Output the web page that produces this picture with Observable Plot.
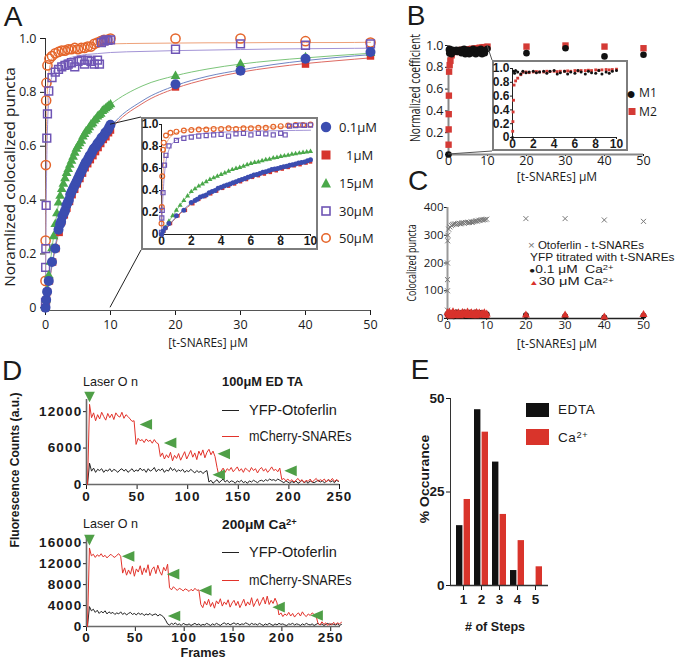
<!DOCTYPE html>
<html><head><meta charset="utf-8">
<script src="https://cdn.jsdelivr.net/npm/d3@7"></script>
<script src="https://cdn.jsdelivr.net/npm/@observablehq/plot@0.6"></script>
<style>
html,body{margin:0;padding:0;background:#fff;}
#root{position:relative;width:677px;height:659px;overflow:hidden;background:#fff;}
#root svg{overflow:visible;}
sup{font-size:0.68em;vertical-align:0.45em;line-height:0;}
.tight sup{vertical-align:0.3em;}
</style></head><body><div id="root"></div>
<script>
// ---------------- DATA ----------------
// Panel A: [t-SNAREs] (µM) vs normalized colocalized puncta, per Ca2+ concentration
const a01 = [[0,0],[0.1,0.03],[0.25,0.06],[0.5,0.10],[1,0.17],[1.5,0.22],[2,0.29],[2.25,0.31],[2.4,0.32],[2.6,0.34],[2.8,0.35],[3,0.36],[3.2,0.38],[3.4,0.39],[3.6,0.40],[3.8,0.42],[4,0.43],[4.2,0.44],[4.4,0.45],[4.6,0.46],[4.8,0.47],[5,0.48],[5.2,0.49],[5.4,0.50],[5.6,0.51],[5.8,0.52],[6,0.53],[6.2,0.54],[6.4,0.545],[6.6,0.555],[6.8,0.565],[7,0.57],[7.2,0.58],[7.4,0.59],[7.6,0.595],[7.8,0.60],[8,0.61],[8.2,0.615],[8.4,0.62],[8.6,0.63],[8.8,0.635],[9,0.64],[9.2,0.65],[9.4,0.655],[9.6,0.66],[9.8,0.67],[10,0.68],[20,0.83],[30,0.88],[40,0.925],[50,0.95]];
const a1 = [[0,0],[0.15,0.03],[0.3,0.06],[0.6,0.10],[1.1,0.17],[1.6,0.22],[2.1,0.28],[2.5,0.32],[2.9,0.345],[3.3,0.37],[3.7,0.395],[4.1,0.42],[4.5,0.44],[4.9,0.46],[5.3,0.48],[5.7,0.50],[6.1,0.52],[6.5,0.535],[6.9,0.55],[7.3,0.565],[7.7,0.58],[8.1,0.595],[8.5,0.61],[8.9,0.625],[9.3,0.635],[9.7,0.65],[10,0.66],[20,0.82],[30,0.88],[40,0.905],[50,0.935]];
const a15 = [[0,0],[0.1,0.03],[0.25,0.065],[0.5,0.12],[0.75,0.17],[1,0.22],[1.25,0.265],[1.5,0.31],[1.75,0.35],[2,0.39],[2.25,0.415],[2.5,0.44],[2.75,0.46],[3,0.48],[3.25,0.50],[3.5,0.515],[3.75,0.53],[4,0.545],[4.25,0.56],[4.5,0.575],[4.75,0.59],[5,0.60],[5.25,0.61],[5.5,0.62],[5.75,0.635],[6,0.645],[6.25,0.655],[6.5,0.66],[6.75,0.67],[7,0.68],[7.25,0.685],[7.5,0.695],[7.75,0.70],[8,0.71],[8.25,0.715],[8.5,0.72],[8.75,0.73],[9,0.735],[9.25,0.74],[9.5,0.745],[9.75,0.75],[10,0.755],[20,0.86],[30,0.905],[40,0.93],[50,0.945]];
const a30 = [[0,0.02],[0.02,0.15],[0.05,0.22],[0.1,0.38],[0.2,0.63],[0.3,0.72],[0.5,0.805],[1,0.855],[1.5,0.875],[2,0.885],[2.5,0.895],[3,0.90],[3.5,0.905],[4,0.91],[4.5,0.895],[5,0.915],[5.5,0.92],[6,0.905],[6.5,0.92],[7,0.915],[7.5,0.905],[8,0.92],[8.3,0.905],[8.6,0.985],[9,0.99],[9.3,0.995],[9.6,0.993],[10,0.995],[20,0.96],[30,0.98],[40,0.975],[50,0.98]];
const a50 = [[0,0.10],[0.02,0.25],[0.05,0.53],[0.1,0.77],[0.15,0.835],[0.3,0.90],[0.6,0.925],[1,0.935],[1.5,0.945],[2,0.95],[2.5,0.955],[3,0.955],[3.5,0.96],[4,0.96],[4.5,0.965],[5,0.96],[5.5,0.965],[6,0.965],[6.5,0.97],[7,0.97],[7.5,0.98],[8,0.985],[8.5,0.99],[9,0.995],[9.5,0.995],[10,1.0],[20,1.0],[30,1.0],[40,0.99],[50,0.985]];
// fitted binding curves
const fitX   = [0,0.05,0.1,0.2,0.3,0.5,0.75,1,1.5,2,3,4,5,6,7,8,9,10,15,20,25,30,35,40,45,50];
const fit01  = [0,0.008,0.016,0.033,0.05,0.085,0.125,0.16,0.23,0.285,0.365,0.43,0.48,0.525,0.565,0.60,0.635,0.67,0.77,0.825,0.86,0.883,0.903,0.918,0.93,0.94];
const fit1   = [0,0.008,0.016,0.032,0.048,0.08,0.12,0.155,0.22,0.275,0.355,0.42,0.47,0.515,0.555,0.59,0.625,0.66,0.76,0.815,0.85,0.875,0.893,0.907,0.918,0.928];
const fit15  = [0,0.012,0.025,0.05,0.075,0.12,0.17,0.22,0.31,0.385,0.48,0.545,0.60,0.645,0.68,0.71,0.735,0.755,0.825,0.862,0.887,0.905,0.918,0.928,0.937,0.945];
const fit30  = [0,0.2,0.35,0.55,0.66,0.77,0.83,0.86,0.89,0.905,0.92,0.93,0.935,0.94,0.942,0.944,0.946,0.948,0.952,0.955,0.957,0.959,0.961,0.962,0.963,0.964];
const fit50  = [0,0.35,0.55,0.73,0.81,0.87,0.905,0.925,0.945,0.955,0.965,0.97,0.973,0.975,0.977,0.978,0.979,0.98,0.982,0.983,0.984,0.984,0.985,0.985,0.985,0.986];
const aLabels = ["0.1μM", "1μM", "15μM", "30μM", "50μM"];
const unitTicks = [0, 0.2, 0.4, 0.6, 0.8, 1.0];
const xTicks50 = [0, 10, 20, 30, 40, 50];
const xTicks10 = [0, 2, 4, 6, 8, 10];

// Panel B: Manders coefficients
const bM1 = [[0,0],[0.1,0.96],[0.2,0.93],[0.3,0.97],[0.5,0.95],[0.8,0.92],[1.0,0.96],[1.3,0.94],[1.6,0.95],[2.0,0.96],[2.3,0.94],[2.6,0.95],[3.0,0.96],[3.3,0.93],[3.6,0.96],[4.0,0.97],[4.3,0.92],[4.6,0.94],[5.0,0.96],[5.3,0.92],[5.6,0.95],[6.0,0.93],[6.3,0.97],[6.6,0.95],[7.0,0.92],[7.3,0.96],[7.6,0.94],[8.0,0.93],[8.3,0.97],[8.6,0.92],[9.0,0.95],[9.3,0.93],[9.6,0.96],[10,0.97],[20,0.93],[30,0.975],[40,0.90],[50,0.915]];
const bM2 = [[0.02,0.09],[0.04,0.23],[0.06,0.37],[0.1,0.54],[0.15,0.76],[0.3,0.82],[0.5,0.86],[0.8,0.91],[1.0,0.945],[1.3,0.95],[1.6,0.94],[2.0,0.95],[2.3,0.955],[2.6,0.95],[3.0,0.95],[3.3,0.96],[3.6,0.955],[4.0,0.96],[4.3,0.955],[4.6,0.96],[5.0,0.96],[5.3,0.965],[5.6,0.96],[6.0,0.97],[6.3,0.965],[6.6,0.97],[7.0,0.97],[7.3,0.975],[7.6,0.97],[8.0,0.98],[8.3,0.975],[8.6,0.98],[9.0,0.985],[9.3,0.98],[9.6,0.985],[10,0.99],[20,0.99],[30,1.0],[40,0.99],[50,0.975]];

// Panel C: colocalized puncta
const cOto = [[0,30],[0,100],[0,140],[0,200],[0.05,280],[0.1,300],[0.3,322],[0.6,330],[1,335],[1.3,338],[1.6,340],[2,341],[2.3,339],[2.6,342],[3,343],[3.3,341],[3.6,344],[4,345],[4.3,343],[4.6,346],[5,345],[5.3,347],[5.6,346],[6,348],[6.3,347],[6.6,349],[7,350],[7.3,352],[7.6,351],[8,354],[8.3,353],[8.6,356],[9,355],[9.3,357],[9.6,356],[10,358],[20,360],[30,360],[40,355],[50,350]];
const cCa01 = [[0,15],[0.3,10],[0.6,18],[1,12],[1.3,20],[1.6,8],[2,15],[2.3,22],[2.6,12],[3,18],[3.3,10],[3.6,20],[4,14],[4.3,22],[4.6,9],[5,17],[5.3,12],[5.6,21],[6,15],[6.3,10],[6.6,19],[7,13],[7.3,22],[7.6,11],[8,18],[8.3,14],[8.6,20],[9,12],[9.3,17],[9.6,10],[10,15],[20,12],[30,8],[40,4],[50,10]];
const cCa30 = [[0,20],[0.2,12],[0.5,22],[0.8,8],[1.1,16],[1.4,24],[1.8,10],[2.1,18],[2.4,13],[2.8,20],[3.1,9],[3.4,16],[3.8,21],[4.1,11],[4.4,19],[4.8,14],[5.1,23],[5.4,10],[5.8,17],[6.1,20],[6.4,12],[6.8,18],[7.1,9],[7.4,21],[7.8,15],[8.1,19],[8.4,11],[8.8,17],[9.1,13],[9.4,20],[9.8,10],[10,16],[20,12],[30,12],[40,5],[50,14]];
const cTicksY = [0, 100, 200, 300, 400];

// Panel D: fluorescence traces, one value every 2 frames starting at frame 1
const dEdtaRed = [0,13200,11000,11800,10500,11500,10800,11900,11200,10600,11700,11000,11600,10700,11800,11300,11100,11900,10900,11500,11200,10800,10400,10500,
 6600,7600,7200,7400,6900,7500,7100,7300,6800,7400,6900,6700,
 4600,5200,4200,4900,4400,5300,3900,4800,4300,5100,4000,4700,5400,4200,4900,5600,4500,5200,4100,5500,4800,5700,4400,5300,5800,4900,5500,4600,
 2800,1300,2200,2700,2000,2600,2300,2800,2100,2500,2900,2200,2600,2000,2700,2400,2100,2800,2300,2600,1900,2500,2800,2200,2600,2000,2400,2900,2300,2500,2100,2700,
 800,1000,600,900,500,800,400,700,1000,500,800,300,700,500,900,400,700,1000,500,800,600,900,400,800,600,1000,500,800,600];
const dEdtaBlack = [0,3500,2200,2700,2000,2500,2300,2600,2000,2400,2200,2600,2100,2500,2300,2000,2400,2600,2200,2500,
 2000,2300,2600,2100,2400,2200,2700,2300,2500,2000,2600,2200,2400,2800,2100,2500,2300,2600,2000,2400,
 2200,2800,2300,2600,2100,2400,2200,2500,2000,2300,2100,2500,2200,1900,2300,2000,2200,1800,2100,2300,
 400,700,200,500,800,300,600,900,400,700,300,600,500,200,600,400,700,300,500,200,
 600,400,700,500,300,600,700,500,800,600,900,700,800,600,900,700,500,300,600,400,
 200,500,300,600,200,400,700,300,500,200,600,400,300,500,700,400,600,300,500,800,400,600,300,700,500];
const dCaRed = [0,15000,13500,13800,13200,13700,13400,13900,13300,13600,13100,13500,13800,13400,13200,13600,13900,13400,
 10200,11200,9800,10800,10000,11500,9600,11000,10400,11600,9900,11200,10300,11800,9700,10900,11400,10100,11700,10500,9800,11300,10600,11900,
 7400,7000,7600,7200,6900,7300,7100,6800,7200,7000,6700,7100,6800,7300,6900,7000,
 4200,3600,4800,4100,5200,3800,4600,3500,4900,4300,5300,3900,4700,4200,5100,3700,4500,5000,4000,4800,
 3600,4400,5200,3900,4700,4100,5500,3800,4600,5300,4000,4800,5600,4300,5800,4200,5000,4400,5400,4500,
 2200,2600,1900,2400,2100,2700,2000,2500,1800,2300,2600,2000,2800,2200,1900,2400,2100,2600,2300,2000,
 600,300,900,400,700,200,600,300,800,400,700,500,800];
const dCaBlack = [0,3800,3000,3300,2700,3100,2500,2900,2600,3000,2400,2800,2500,2700,2300,2600,2400,2800,2300,2600,
 2200,2500,2700,2300,2500,2200,2600,2300,2500,2100,2400,2200,2500,2100,2300,2400,2000,2300,2100,1800,1200,
 500,300,600,400,700,300,500,200,600,400,300,500,200,400,600,300,500,200,400,300,
 600,400,200,500,300,600,400,200,500,700,400,600,300,500,700,400,600,300,500,400,
 700,500,300,600,400,500,300,600,400,200,500,300,600,400,200,500,300,600,400,500,
 300,200,500,400,600,300,500,400,200,500,300,600,400,300,500,200,400,600,300,500,
 200,400,600,300,500,400,300,500,200,400];
// step-arrow annotations (frame, counts)
const dEdtaSteps = [[59,9900],[83,6850],[136,5050],[131,1600],[202,2250]];
const dCaSteps = [[43,13400],[89,10000],[122,6900],[197,3700],[236,2100],[90,2000]];
const dLaserEdta = [[3,14500]];
const dLaserCa = [[3,16600]];

// Panel E: number of bleaching steps
const eSteps = [1, 2, 3, 4, 5];
const eEdta = [16, 47, 33, 4, 0];
const eCa = [23, 41, 19, 12, 5];

// ---------------- HELPERS ----------------
const root = document.getElementById("root");
const SANS = "'Open Sans','Noto Sans',sans-serif";
const ARIAL = "'Liberation Sans',Arial,sans-serif";
const fmt1 = d => d === 0 ? "0" : d.toFixed(1);
const pts = arr => arr.map(([x, y]) => ({x, y}));

function put(node, left, top) {
  node.style.position = "absolute"; node.style.left = left + "px"; node.style.top = top + "px";
  root.appendChild(node); return node;
}
function text(html, x, y, o = {}) {
  const el = document.createElement("div");
  el.innerHTML = html;
  if (o.cls) el.className = o.cls;
  const s = el.style;
  s.position = "absolute"; s.left = x + "px"; s.top = y + "px"; s.whiteSpace = "nowrap"; s.lineHeight = o.lh || "1.15";
  s.fontFamily = o.family || SANS; s.fontSize = (o.size || 13) + "px"; s.fontWeight = o.weight || "normal";
  s.color = o.color || "#1a1a1a";
  if (o.spacing) s.letterSpacing = o.spacing + "px";
  root.appendChild(el);
  const w = el.offsetWidth;
  const sx = o.width ? o.width / w : 1;
  const start = o.anchor === "start";
  s.transformOrigin = start ? "0 50%" : "50% 50%";
  s.transform = `translate(${start ? "0" : "-50%"},-50%) rotate(${o.rotate || 0}deg) scaleX(${sx})`;
  return el;
}
const leftTri = {draw(ctx, size) { const s = Math.sqrt(size); ctx.moveTo(-0.62 * s, 0); ctx.lineTo(0.55 * s, -0.5 * s); ctx.lineTo(0.55 * s, 0.5 * s); ctx.closePath(); }};
const downTri = {draw(ctx, size) { const s = Math.sqrt(size); ctx.moveTo(0, 0.55 * s); ctx.lineTo(-0.5 * s, -0.45 * s); ctx.lineTo(0.5 * s, -0.45 * s); ctx.closePath(); }};
const plotStyle = (family, size, extra = {}) => Object.assign({background: "transparent", overflow: "visible", maxWidth: "none", fontFamily: family, fontSize: size + "px", color: "#1a1a1a"}, extra);

// ---------------- PANEL A ----------------
const seriesA = [
  {data: a50, fit: fit50, color: "#e5652a", fitColor: "#eea27a", symbol: "circle", open: true, r: 4.6, ri: 2.4},
  {data: a30, fit: fit30, color: "#6f55b5", fitColor: "#a394d6", symbol: "square", open: true, r: 4.4, ri: 2.3},
  {data: a1, fit: fit1, color: "#d6342c", fitColor: "#de6a62", symbol: "square", open: false, r: 4.2, ri: 2.0},
  {data: a15, fit: fit15, color: "#4aa84a", fitColor: "#7cc57a", symbol: "triangle", open: false, r: 3.6, ri: 1.9},
  {data: a01, fit: fit01, color: "#3b4db0", fitColor: "#6f86c4", symbol: "circle", open: false, r: 5.0, ri: 2.5}
];
function aMarks(maxX, inset) {
  const m = [];
  for (const s of seriesA) {
    const f = fitX.map((x, i) => ({x, y: s.fit[i]})).filter(d => d.x <= maxX);
    m.push(Plot.line(f, {x: "x", y: "y", stroke: s.fitColor, strokeWidth: 1, curve: "monotone-x"}));
  }
  for (const s of seriesA) {
    const d = pts(s.data).filter(p => p.x <= maxX);
    const r = inset ? s.ri : s.r;
    m.push(s.open
      ? Plot.dot(d, {x: "x", y: "y", symbol: s.symbol, r, fill: "none", stroke: s.color, strokeWidth: inset ? 1.2 : 1.5})
      : Plot.dot(d, {x: "x", y: "y", symbol: s.symbol, r, fill: s.color, stroke: "none"}));
  }
  return m;
}
const chartA = Plot.plot({
  width: 377, height: 350, marginLeft: 45, marginRight: 7, marginTop: 38, marginBottom: 40,
  x: {domain: [0, 50], ticks: xTicks50, tickSize: 5, tickPadding: 5, label: null},
  y: {domain: [-0.01, 1], ticks: unitTicks, tickFormat: fmt1, tickSize: 5, tickPadding: 4, label: null},
  style: plotStyle(SANS, 12.5),
  marks: [
    Plot.ruleY([-0.01], {stroke: "#555"}),
    Plot.ruleX([0], {y1: -0.01, y2: 1, stroke: "#333"}),
    ...aMarks(50, false)
  ]
});
put(chartA, 0, 0);

// ---------------- PANEL B ----------------
const chartB = Plot.plot({
  width: 317, height: 185, marginLeft: 88, marginRight: 34, marginTop: 45, marginBottom: 31,
  x: {domain: [0, 50], ticks: xTicks50, tickSize: 2, tickPadding: 0, label: null},
  y: {domain: [0, 1], ticks: unitTicks, tickFormat: fmt1, tickSize: 3, tickPadding: 2, label: null},
  style: plotStyle(SANS, 12.5),
  marks: [
    Plot.ruleY([0], {stroke: "#888", strokeWidth: 2}),
    Plot.ruleX([0], {stroke: "#888", strokeWidth: 2}),
    Plot.dot(pts(bM2), {x: "x", y: "y", symbol: "square", r: 3.6, fill: "#d43a35"}),
    Plot.dot(pts(bM1), {x: "x", y: "y", r: 3.3, fill: "#111"})
  ]
});
put(chartB, 360, 0);

// ---------------- PANEL C ----------------
const chartC = Plot.plot({
  width: 317, height: 160, marginLeft: 87, marginRight: 34, marginTop: 22, marginBottom: 27,
  x: {domain: [0, 50], ticks: xTicks50, tickSize: 2, tickPadding: 0, label: null},
  y: {domain: [0, 400], ticks: cTicksY, tickSize: 3, tickPadding: 1, label: null},
  style: plotStyle(SANS, 11.5),
  marks: [
    Plot.ruleY([0], {stroke: "#222", strokeWidth: 1.3}),
    Plot.ruleX([0], {stroke: "#999", strokeWidth: 2}),
    Plot.dot(pts(cOto), {x: "x", y: "y", symbol: "times", r: 2.4, stroke: "#777", strokeWidth: 1}),
    Plot.dot(pts(cCa01), {x: "x", y: "y", r: 3, fill: "#111"}),
    Plot.dot(pts(cCa30), {x: "x", y: "y", symbol: "triangle", r: 3, fill: "#d8322c"})
  ]
});
put(chartC, 360, 185);

// ---------------- INSETS ----------------
function insetBox(left, top, w, h) {
  const box = document.createElement("div");
  Object.assign(box.style, {boxSizing: "border-box", width: w + "px", height: h + "px", border: "2px solid #7d7d7d", background: "#fff"});
  return put(box, left, top);
}
const boxA = insetBox(141, 117, 177, 133);
const insetA = Plot.plot({
  width: 173, height: 129, marginLeft: 18, marginRight: 6, marginTop: 5, marginBottom: 14,
  x: {domain: [0, 10], ticks: xTicks10, tickSize: 2, tickPadding: 0, label: null},
  y: {domain: [0, 1], ticks: unitTicks, tickFormat: fmt1, tickSize: 2, tickPadding: 1, label: null},
  style: plotStyle(ARIAL, 12, {fontWeight: "bold", display: "block"}),
  marks: [Plot.ruleY([0], {stroke: "#222"}), Plot.ruleX([0], {stroke: "#222"}), ...aMarks(10, true)]
});
boxA.appendChild(insetA);

const boxB = insetBox(492, 60, 136, 91);
const insetB = Plot.plot({
  width: 132, height: 87, marginLeft: 18, marginRight: 10, marginTop: 6, marginBottom: 12,
  x: {domain: [0, 10], ticks: xTicks10, tickSize: 2, tickPadding: 0, label: null},
  y: {domain: [0, 1], ticks: unitTicks, tickFormat: fmt1, tickSize: 2, tickPadding: 1, label: null},
  style: plotStyle(ARIAL, 12, {fontWeight: "bold", display: "block"}),
  marks: [
    Plot.ruleY([0], {stroke: "#222"}), Plot.ruleX([0], {stroke: "#222"}),
    Plot.dot(pts(bM2).filter(d => d.x <= 10), {x: "x", y: "y", symbol: "square", r: 1.6, fill: "#d43a35"}),
    Plot.dot(pts(bM1).filter(d => d.x <= 10), {x: "x", y: "y", r: 1.5, fill: "#111"})
  ]
});
boxB.appendChild(insetB);

// zoom connector lines (main-plot corner of the zoomed region -> inset corner)
const ov = document.createElementNS("http://www.w3.org/2000/svg", "svg");
ov.setAttribute("width", 677); ov.setAttribute("height", 659);
const sxA = d3.scaleLinear([0, 50], [45, 370]), syA = d3.scaleLinear([-0.01, 1], [310, 38]);
const sxB = d3.scaleLinear([0, 50], [448, 643]), syB = d3.scaleLinear([0, 1], [154, 45]);
const conn = [
  [sxA(10), syA(0.68), 141, 117, "#222"], [sxA(10), syA(0), 141, 250, "#222"],
  [sxB(10), syB(1), 492, 60, "#555"], [sxB(0), syB(0), 492, 151, "#555"]
];
for (const [x1, y1, x2, y2, c] of conn) {
  const l = document.createElementNS("http://www.w3.org/2000/svg", "line");
  l.setAttribute("x1", x1); l.setAttribute("y1", y1); l.setAttribute("x2", x2); l.setAttribute("y2", y2);
  l.setAttribute("stroke", c); l.setAttribute("stroke-width", 1);
  ov.appendChild(l);
}
ov.style.pointerEvents = "none";
put(ov, 0, 0);

// ---------------- PANEL D ----------------
function trace(red, black, steps, laser, o) {
  const R = red.map((v, i) => ({frame: 1 + 2 * i, v}));
  const K = black.map((v, i) => ({frame: 1 + 2 * i, v}));
  return Plot.plot({
    width: 360, height: o.height, marginLeft: 86, marginRight: o.mr, marginTop: o.mt, marginBottom: o.mb,
    x: {domain: o.xDomain, ticks: [0, 50, 100, 150, 200, 250], tickSize: 5, tickPadding: o.xPad, label: null},
    y: {domain: o.yDomain, ticks: o.yTicks, tickFormat: d => String(d), tickSize: 3, tickPadding: 1, label: null},
    style: plotStyle(ARIAL, 13.5, {fontWeight: "bold", letterSpacing: "1.2px"}),
    marks: [
      Plot.ruleY([0], {stroke: "#6a6a6a", strokeWidth: 1.6}),
      Plot.ruleX([0], {stroke: "#6a6a6a", strokeWidth: 1.6}),
      Plot.line(K, {x: "frame", y: "v", stroke: "#222", strokeWidth: 1}),
      Plot.line(R, {x: "frame", y: "v", stroke: "#e2332b", strokeWidth: 1}),
      Plot.dot(steps.map(([frame, v]) => ({frame, v})), {x: "frame", y: "v", symbol: leftTri, r: 6, fill: "#4f9f47"}),
      Plot.dot(laser.map(([frame, v]) => ({frame, v})), {x: "frame", y: "v", symbol: downTri, r: 6, fill: "#4f9f47"})
    ]
  });
}
put(trace(dEdtaRed, dEdtaBlack, dEdtaSteps, dLaserEdta,
  {height: 120, mt: 9, mb: 26, mr: 21, xDomain: [0, 250], yDomain: [0, 14000], yTicks: [0, 6000, 12000], xPad: 2}), 0, 390);
put(trace(dCaRed, dCaBlack, dCaSteps, dLaserCa,
  {height: 129, mt: 7, mb: 33, mr: 20, xDomain: [0, 260], yDomain: [0, 17000], yTicks: [0, 4000, 8000, 12000, 16000], xPad: 1}), 0, 530);

// ---------------- PANEL E ----------------
const rowsE = eSteps.map((step, i) => ({step, edta: eEdta[i], ca: eCa[i]}));
const chartE = Plot.plot({
  width: 257, height: 274, marginLeft: 30, marginRight: 129, marginTop: 13, marginBottom: 74,
  x: {domain: eSteps, paddingInner: 0.2, paddingOuter: 0.18, tickSize: 5, tickPadding: 4, label: null},
  y: {domain: [0, 50], ticks: [0, 25, 50], tickSize: 4, tickPadding: 2, label: null},
  style: plotStyle(ARIAL, 13.5, {fontWeight: "bold"}),
  marks: [
    Plot.barY(rowsE, {x: "step", y: "edta", fill: "#111", insetRight: 7.6}),
    Plot.barY(rowsE, {x: "step", y: "ca", fill: "#d9342b", insetLeft: 7.6}),
    Plot.ruleY([0], {stroke: "#333", strokeWidth: 1.3})
  ]
});
put(chartE, 420, 385);
const eAxis = document.createElement("div");
Object.assign(eAxis.style, {width: "1.3px", height: "187px", background: "#333"});
put(eAxis, 450, 398);

// ---------------- TEXT ----------------
// panel letters
text("A", 13, 17, {family: ARIAL, size: 28});
text("B", 416, 16, {family: ARIAL, size: 28});
text("C", 418, 181, {family: ARIAL, size: 28});
text("D", 12, 371, {family: ARIAL, size: 28});
text("E", 420, 370, {family: ARIAL, size: 28});

// A axes + legend
text("Noramlized colocalized puncta", 10, 177, {size: 14, rotate: -90, width: 220});
text("[t-SNAREs] μM", 208, 343, {size: 12.5, width: 80});
const legendA = [
  {sym: `<circle cx="6" cy="6" r="5.2" fill="#3b4db0"/>`, y: 127},
  {sym: `<rect x="1.5" y="1.5" width="9" height="9" fill="#d6342c"/>`, y: 155},
  {sym: `<path d="M6 1 L11 10.5 L1 10.5 Z" fill="#4aa84a"/>`, y: 183},
  {sym: `<rect x="2" y="2" width="8" height="8" fill="none" stroke="#6f55b5" stroke-width="1.6"/>`, y: 211},
  {sym: `<circle cx="6" cy="6" r="4.2" fill="none" stroke="#e5652a" stroke-width="1.6"/>`, y: 238}
];
legendA.forEach((l, i) => {
  const s = document.createElementNS("http://www.w3.org/2000/svg", "svg");
  s.setAttribute("width", 12); s.setAttribute("height", 12); s.innerHTML = l.sym;
  put(s, 320, l.y - 6);
  text(aLabels[i], i === 1 ? 346 : 339, l.y, {size: 13, anchor: "start"});
});

// B
text("Normalized coefficient", 415, 88, {size: 14, rotate: -90, width: 108});
text("[t-SNAREs] μM", 557, 177, {size: 12, width: 80, lh: "1"});
text(`<span style="font-size:16px">●</span>`, 631, 93, {size: 11, color: "#111", lh: "1"});
text("M1", 639, 93, {size: 13.5, anchor: "start", lh: "1", width: 18});
text(`<span style="display:inline-block;width:7px;height:7px;background:#d43a35"></span>`, 632, 111, {size: 10, lh: "1"});
text("M2", 639, 112, {size: 13.5, anchor: "start", lh: "1", width: 18});

// C
text("Colocalized puncta", 412, 263, {size: 13.5, rotate: -90, width: 77});
text("[t-SNAREs] μM", 557, 344, {size: 12, width: 80, lh: "1"});
text(`<span style="color:#777">×</span> Otoferlin - t-SNAREs`, 528, 244.5, {family: ARIAL, size: 10.5, anchor: "start", width: 116, lh: "1"});
text("YFP titrated with t-SNAREs", 530, 256.8, {family: ARIAL, size: 10.5, anchor: "start", width: 145, lh: "1"});
text(`<span style="font-size:8px">●</span>0.1 μM&nbsp; Ca<sup>2+</sup>`, 529, 269.1, {family: ARIAL, size: 10.5, anchor: "start", width: 85, lh: "1", cls: "tight"});
text(`<span style="font-size:7px;color:#d8322c">▲</span>30 μM Ca<sup>2+</sup>`, 529, 281.4, {family: ARIAL, size: 10.5, anchor: "start", width: 85, lh: "1", cls: "tight"});

// D
text("Fluorescence Counts (a.u.)", 15, 470, {family: ARIAL, size: 13, weight: "bold", rotate: -90, width: 155});
text("Laser O n", 83, 382, {family: ARIAL, size: 13, anchor: "start", width: 55});
text("100μM ED TA", 222, 382, {family: ARIAL, size: 13, weight: "bold", anchor: "start", width: 81});
text("Laser O n", 83, 524, {family: ARIAL, size: 13, anchor: "start", width: 55});
text("200μM Ca<sup>2+</sup>", 222, 525, {family: ARIAL, size: 13, weight: "bold", anchor: "start", width: 75});
text("Frames", 203, 653, {family: ARIAL, size: 13, weight: "bold", width: 45});
const dLeg = [[410, "#222", "YFP-Otoferlin"], [436, "#e2332b", "mCherry-SNAREs"], [552, "#222", "YFP-Otoferlin"], [580, "#e2332b", "mCherry-SNAREs"]];
for (const [y, c, t] of dLeg) {
  const ln = document.createElement("div");
  Object.assign(ln.style, {width: "17px", height: "1.2px", background: c});
  put(ln, 222, y);
  text(t, 249, y, {family: ARIAL, size: 14, anchor: "start", width: t.startsWith("YFP") ? 88 : 103});
}

// E
text("% Occurance", 425, 479, {family: ARIAL, size: 13, weight: "bold", rotate: -90, width: 88});
text("# of Steps", 495, 627, {family: ARIAL, size: 13, weight: "bold", width: 60});
const eLeg = [[403, 14, "#111", "EDTA", 410], [429, 16, "#d9342b", "Ca<sup>2+</sup>", 438]];
for (const [y, h, c, t, ty] of eLeg) {
  const b = document.createElement("div");
  Object.assign(b.style, {width: "23px", height: h + "px", background: c});
  put(b, 526, y);
  text(t, 558, ty, {family: ARIAL, size: 13.5, anchor: "start", spacing: 0.6});
}
</script></body></html>
